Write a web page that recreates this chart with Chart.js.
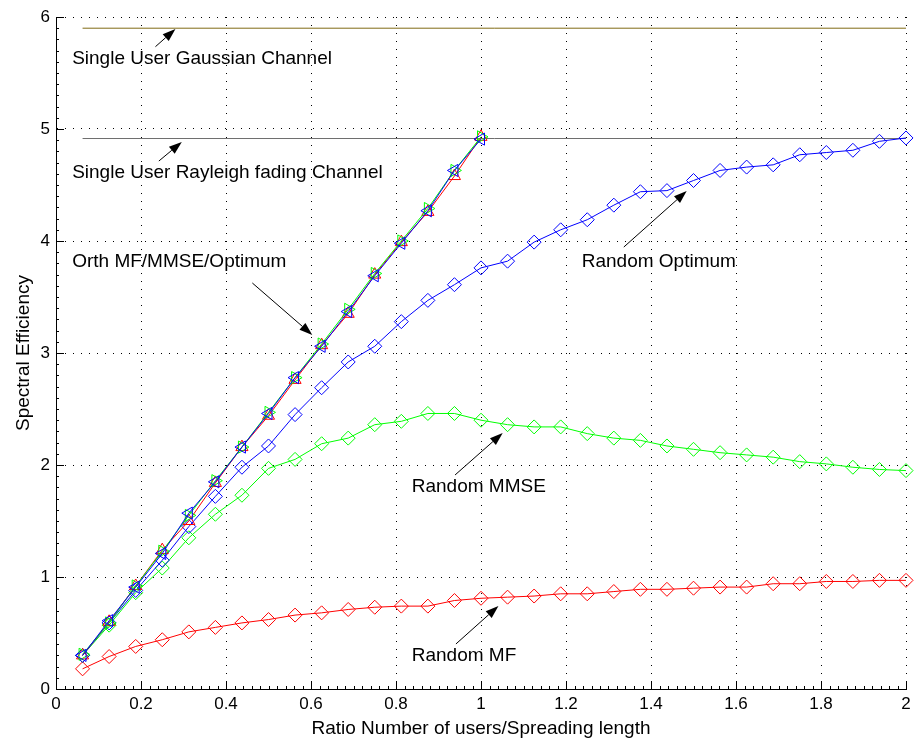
<!DOCTYPE html>
<html>
<head>
<meta charset="utf-8">
<title>Spectral Efficiency</title>
<script src="https://cdn.jsdelivr.net/npm/chart.js@4.4.1/dist/chart.umd.min.js"></script>
<style>
    html, body { margin: 0; padding: 0; background: #fff; }
    #grafico { display: block; }
</style>
</head>
<body>
<canvas id="grafico" width="914" height="741"></canvas>
<script>
// ---- Datos ----
const ratio = [0.0625, 0.125, 0.1875, 0.25, 0.3125, 0.375, 0.4375, 0.5,
               0.5625, 0.625, 0.6875, 0.75, 0.8125, 0.875, 0.9375, 1,
               1.0625, 1.125, 1.1875, 1.25, 1.3125, 1.375, 1.4375, 1.5,
               1.5625, 1.625, 1.6875, 1.75, 1.8125, 1.875, 1.9375, 2];
const ratioOrth = ratio.slice(0, 16);

const orthMF      = [0.30, 0.60, 0.92, 1.24, 1.50, 1.84, 2.16, 2.44, 2.76, 3.07, 3.35, 3.70, 3.99, 4.26, 4.58, 4.93];
const orthMMSE    = [0.31, 0.59, 0.92, 1.23, 1.55, 1.86, 2.16, 2.47, 2.78, 3.08, 3.39, 3.71, 4.00, 4.29, 4.63, 4.93];
const orthOptimum = [0.30, 0.61, 0.91, 1.21, 1.57, 1.85, 2.16, 2.46, 2.78, 3.06, 3.37, 3.69, 3.98, 4.27, 4.63, 4.91];

const randomOptimum = [0.30, 0.59, 0.88, 1.15, 1.45, 1.72, 1.98, 2.17, 2.45, 2.69, 2.92, 3.06, 3.28, 3.47, 3.61, 3.76,
                       3.82, 3.99, 4.10, 4.19, 4.32, 4.44, 4.45, 4.54, 4.63, 4.66, 4.68, 4.77, 4.79, 4.81, 4.89, 4.92];
const randomMMSE    = [0.30, 0.57, 0.86, 1.08, 1.35, 1.56, 1.73, 1.97, 2.05, 2.19, 2.24, 2.36, 2.39, 2.46, 2.46, 2.40,
                       2.36, 2.34, 2.34, 2.28, 2.24, 2.22, 2.17, 2.14, 2.11, 2.09, 2.07, 2.03, 2.01, 1.98, 1.96, 1.95];
const randomMF      = [0.18, 0.29, 0.38, 0.44, 0.51, 0.55, 0.59, 0.62, 0.66, 0.68, 0.71, 0.73, 0.74, 0.74, 0.79, 0.81,
                       0.82, 0.83, 0.85, 0.85, 0.87, 0.89, 0.89, 0.90, 0.91, 0.91, 0.94, 0.94, 0.96, 0.96, 0.97, 0.97];

const gaussianLimit = 5.90;
const rayleighLimit = 4.915;
const limitRange = [0.0625, 2];

const xTicks = [0, 0.2, 0.4, 0.6, 0.8, 1, 1.2, 1.4, 1.6, 1.8, 2];
const yTicks = [0, 1, 2, 3, 4, 5, 6];

// textos y flechas (coordenadas en unidades de los ejes)
const notas = [
    { texto: 'Single User Gaussian Channel',        x: 0.038, y: 5.625, desde: [0.234, 5.735], hasta: [0.281, 5.893] },
    { texto: 'Single User Rayleigh fading Channel', x: 0.038, y: 4.607, desde: [0.242, 4.714], hasta: [0.296, 4.884] },
    { texto: 'Orth MF/MMSE/Optimum',                x: 0.038, y: 3.813, desde: [0.462, 3.625], hasta: [0.603, 3.161] },
    { texto: 'Random Optimum',                      x: 1.237, y: 3.813, desde: [1.336, 3.946], hasta: [1.484, 4.446] },
    { texto: 'Random MMSE',                         x: 0.837, y: 1.806, desde: [0.939, 1.911], hasta: [1.051, 2.286] },
    { texto: 'Random MF',                           x: 0.837, y: 0.295, desde: [0.941, 0.402], hasta: [1.041, 0.741] }
];

const FUENTE = '"Liberation Sans", Arial, Helvetica, sans-serif';
const ROJO = '#ff0000', VERDE = '#00ff00', AZUL = '#0000ff';

function puntos(xs, ys) {
    return xs.map((x, i) => ({ x, y: ys[i] }));
}

function serie(label, xs, ys, color, estilo, rotacion) {
    return {
        label,
        data: puntos(xs, ys),
        borderColor: color,
        backgroundColor: 'rgba(0,0,0,0)',
        borderWidth: 1,
        pointStyle: estilo,
        pointRotation: rotacion || 0,
        pointRadius: 7,
        pointBorderWidth: 1,
        pointBorderColor: color,
        pointBackgroundColor: 'rgba(0,0,0,0)',
        tension: 0,
        clip: 12
    };
}

function limite(label, valor, color) {
    return {
        label,
        data: puntos(limitRange, [valor, valor]),
        borderColor: color,
        borderWidth: 1,
        pointRadius: 0,
        clip: 12
    };
}

// ---- Adornos: marcas internas, notas con flechas, títulos ----
const adornos = {
    id: 'adornos',
    afterDraw(chart) {
        const { ctx, chartArea: a, scales: { x, y } } = chart;
        ctx.save();
        ctx.strokeStyle = '#000';
        ctx.fillStyle = '#000';
        ctx.lineWidth = 1;

        ctx.beginPath();
        xTicks.forEach(v => {
            const px = Math.round(x.getPixelForValue(v)) + 0.5;
            ctx.moveTo(px, a.bottom);
            ctx.lineTo(px, a.bottom - 8);
        });
        yTicks.forEach(v => {
            const py = Math.round(y.getPixelForValue(v)) + 0.5;
            ctx.moveTo(a.left, py);
            ctx.lineTo(a.left + 8, py);
        });
        for (let i = 0; i < xTicks.length - 1; i++) {
            for (let k = 1; k < 10; k++) {
                const v = xTicks[i] + (xTicks[i + 1] - xTicks[i]) * k / 10;
                const px = Math.round(x.getPixelForValue(v)) + 0.5;
                ctx.moveTo(px, a.bottom);
                ctx.lineTo(px, a.bottom - 3);
            }
        }
        for (let i = 0; i < yTicks.length - 1; i++) {
            for (let k = 1; k < 10; k++) {
                const v = yTicks[i] + (yTicks[i + 1] - yTicks[i]) * k / 10;
                const py = Math.round(y.getPixelForValue(v)) + 0.5;
                ctx.moveTo(a.left, py);
                ctx.lineTo(a.left + 3, py);
            }
        }
        ctx.stroke();

        // notas
        ctx.font = '19px ' + FUENTE;
        ctx.textAlign = 'left';
        ctx.textBaseline = 'middle';
        notas.forEach(n => {
            ctx.fillText(n.texto, x.getPixelForValue(n.x), y.getPixelForValue(n.y));
            const x0 = x.getPixelForValue(n.desde[0]), y0 = y.getPixelForValue(n.desde[1]);
            const x1 = x.getPixelForValue(n.hasta[0]), y1 = y.getPixelForValue(n.hasta[1]);
            const ang = Math.atan2(y1 - y0, x1 - x0);
            const largo = 13, ancho = 4.5;
            const bx = x1 - Math.cos(ang) * largo, by = y1 - Math.sin(ang) * largo;
            ctx.beginPath();
            ctx.moveTo(x0, y0);
            ctx.lineTo(bx, by);
            ctx.stroke();
            ctx.beginPath();
            ctx.moveTo(x1, y1);
            ctx.lineTo(bx + Math.sin(ang) * ancho, by - Math.cos(ang) * ancho);
            ctx.lineTo(bx - Math.sin(ang) * ancho, by + Math.cos(ang) * ancho);
            ctx.closePath();
            ctx.fill();
        });

        // títulos de ejes
        ctx.textAlign = 'center';
        ctx.fillText('Ratio Number of users/Spreading length', (a.left + a.right) / 2, 729);
        ctx.translate(24, (a.top + a.bottom) / 2);
        ctx.rotate(-Math.PI / 2);
        ctx.fillText('Spectral Efficiency', 0, 0);
        ctx.restore();
    }
};

const ctx = document.getElementById('grafico').getContext('2d');

new Chart(ctx, {
    type: 'line',
    data: {
        datasets: [
            serie('Orth Optimum', ratioOrth, orthOptimum, AZUL, 'triangle', -90),
            serie('Orth MMSE', ratioOrth, orthMMSE, VERDE, 'triangle', 90),
            serie('Orth MF', ratioOrth, orthMF, ROJO, 'triangle', 0),
            serie('Random Optimum', ratio, randomOptimum, AZUL, 'rectRot'),
            serie('Random MMSE', ratio, randomMMSE, VERDE, 'rectRot'),
            serie('Random MF', ratio, randomMF, ROJO, 'rectRot'),
            limite('Single User Rayleigh fading Channel', rayleighLimit, '#6e6e6e'),
            limite('Single User Gaussian Channel', gaussianLimit, '#806a14')
        ]
    },
    options: {
        responsive: false,
        devicePixelRatio: 1,
        animation: false,
        layout: { padding: { top: 17, right: 6, left: 0, bottom: 0 } },
        plugins: {
            legend: { display: false },
            tooltip: { enabled: false }
        },
        scales: {
            x: {
                type: 'linear',
                min: 0,
                max: 2,
                afterBuildTicks: s => { s.ticks = xTicks.map(v => ({ value: v })); },
                afterFit: s => { s.height = 52; s.paddingLeft = 0; s.paddingRight = 0; },
                ticks: {
                    callback: v => String(v),
                    color: '#000',
                    font: { family: FUENTE, size: 17 },
                    padding: 5,
                    maxRotation: 0
                },
                grid: { color: '#000', lineWidth: 1, drawTicks: false },
                border: { display: true, color: '#000', width: 1, dash: [1, 7] }
            },
            y: {
                type: 'linear',
                min: 0,
                max: 6,
                afterBuildTicks: s => { s.ticks = yTicks.map(v => ({ value: v })); },
                afterFit: s => { s.width = 56; s.paddingTop = 0; s.paddingBottom = 0; },
                ticks: {
                    callback: v => String(v),
                    color: '#000',
                    font: { family: FUENTE, size: 17 },
                    padding: 6
                },
                grid: { color: '#000', lineWidth: 1, drawTicks: false },
                border: { display: true, color: '#000', width: 1, dash: [1, 7] }
            }
        }
    },
    plugins: [adornos]
});
</script>
</body>
</html>
